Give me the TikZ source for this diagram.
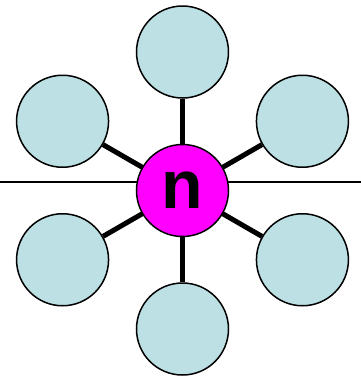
\documentclass[tikz,border=0pt]{standalone}
\usepackage{fontspec}
\setmainfont{Liberation Sans}
\usepackage{tikz}
\usetikzlibrary{positioning}
\definecolor{leafblue}{RGB}{188,224,228}
\definecolor{hubmagenta}{RGB}{255,0,255}

\begin{document}
\begin{tikzpicture}[
  x=1pt, y=-1pt,
  hub/.style={circle, draw=black, line width=1.5pt, fill=hubmagenta, minimum size=92pt, inner sep=0pt, font=\fontsize{68}{68}\selectfont\bfseries},
  leaf/.style={circle, draw=black, line width=1.5pt, fill=leafblue, minimum size=92pt, inner sep=0pt},
  spoke/.style={line width=5pt, black},
  axis_line/.style={line width=1.5pt, black}
]
\useasboundingbox (0,0) rectangle (361,376);

% Horizontal line
\coordinate (west) at (0,182);
\coordinate (east) at (361,182);
\draw[axis_line] (west) -- (east);

% Centre node
\coordinate (c) at (182.5,190.5);

% Outer nodes and spokes
\foreach \i/\ang in {1/90, 2/150, 3/210, 4/270, 5/330, 6/30} {
  \node[leaf] (leaf\i) at ([shift={(\ang:138.5)}]c) {};
  \draw[spoke] (c) -- (leaf\i);
}

\node[hub] (hub) at (c) {\raisebox{-5pt}{n}};

\end{tikzpicture}
\end{document}
